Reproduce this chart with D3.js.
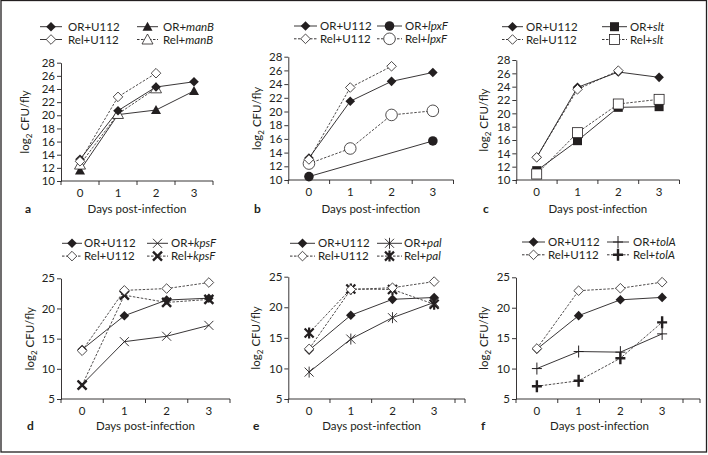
<!DOCTYPE html>
<html><head><meta charset="utf-8">
<script src="https://cdn.jsdelivr.net/npm/d3@7"></script>
<style>
html,body{margin:0;padding:0;background:#fff;}
svg{display:block;font-family:Lato,"Open Sans",sans-serif;}
</style></head>
<body><svg id="chart" width="708" height="455"></svg>
<script>
// ---------- DATA ----------
const days = [0, 1, 2, 3];
const dayLabels = ["0", "1", "2", "3"];
const xTitle = "Days post-infection";

// panel a
const aOR_U112  = [13.3, 20.7, 24.3, 25.1];
const aRel_U112 = [13.0, 22.8, 26.4, null];
const aOR_manB  = [11.6, 20.1, 20.8, 23.7];
const aRel_manB = [12.5, 20.2, 24.1, null];
const aTicks = [10, 12, 14, 16, 18, 20, 22, 24, 26, 28];
// panel b
const bOR_U112  = [13.2, 21.5, 24.4, 25.7];
const bRel_U112 = [13.0, 23.5, 26.6, null];
const bOR_lpxF  = [10.5, null, null, 15.7];
const bRel_lpxF = [12.4, 14.6, 19.5, 20.1];
const bTicks = [10, 12, 14, 16, 18, 20, 22, 24, 26, 28];
// panel c
const cOR_U112  = [13.4, 23.9, 26.2, 25.4];
const cRel_U112 = [13.4, 23.6, 26.4, null];
const cOR_slt   = [11.4, 15.9, 20.9, 21.0];
const cRel_slt  = [10.9, 17.1, 21.4, 22.1];
const cTicks = [10, 12, 14, 16, 18, 20, 22, 24, 26, 28];
// panel d
const dOR_U112  = [13.2, 18.8, 21.4, 21.7];
const dRel_U112 = [13.0, 23.0, 23.3, 24.3];
const dOR_kpsF  = [7.4, 14.5, 15.4, 17.2];
const dRel_kpsF = [7.3, 22.2, 21.0, 21.5];
const dTicks = [5, 10, 15, 20, 25];
// panel e
const eOR_U112  = [13.0, 18.7, 21.3, 21.6];
const eRel_U112 = [13.2, 22.9, 23.2, 24.2];
const eOR_pal   = [9.4, 14.8, 18.3, 20.8];
const eRel_pal  = [15.8, 23.0, 22.9, 20.5];
const eTicks = [5, 10, 15, 20, 25];
// panel f
const fOR_U112  = [13.2, 18.7, 21.3, 21.7];
const fRel_U112 = [13.3, 22.8, 23.2, 24.2];
const fOR_tolA  = [10.0, 12.8, 12.7, 15.7];
const fRel_tolA = [7.1, 8.0, 11.7, 17.6];
const fTicks = [5, 10, 15, 20, 25];

const genes = ["manB", "lpxF", "slt", "kpsF", "pal", "tolA"];

// ---------- LAYOUT ----------
const INK = "#231f20";
const panels = [
  {id:"a", gene:genes[0], data:[aOR_U112,aRel_U112,aOR_manB,aRel_manB], marks:["dF","dO","tF","tO"], ticks:aTicks,
   xl:61, xr:213, axEnd:213, yt:62.7, yb:181, lab:{x:25,y:213}, yl:{x:29},
   lg:{y:26.7, c:[[40,62,68],[137,158,163]]}, relSolidLegend:true},
  {id:"b", gene:genes[1], data:[bOR_U112,bRel_U112,bOR_lpxF,bRel_lpxF], marks:["dF","dO","cF","cO"], ticks:bTicks,
   xl:288.3, xr:453.5, axEnd:453.5, yt:56.7, yb:180, lab:{x:254,y:213}, yl:{x:261},
   lg:{y:26, c:[[294,317,320],[377,402,405]]}},
  {id:"c", gene:genes[2], data:[cOR_U112,cRel_U112,cOR_slt,cRel_slt], marks:["dF","dO","sF","sO"], ticks:cTicks,
   xl:516.3, xr:679.5, axEnd:679.5, yt:60, yb:180, lab:{x:483,y:213}, yl:{x:488},
   lg:{y:26.7, c:[[502,523,526],[602,627,630]]}},
  {id:"d", gene:genes[3], data:[dOR_U112,dRel_U112,dOR_kpsF,dRel_kpsF], marks:["dF","dO","xT","xB"], ticks:dTicks,
   xl:61, xr:230, axEnd:230, yt:278.3, yb:399, lab:{x:27,y:430}, yl:{x:34},
   lg:{y:243.3, c:[[62,82,84],[147,168,171]]}},
  {id:"e", gene:genes[4], data:[eOR_U112,eRel_U112,eOR_pal,eRel_pal], marks:["dF","dO","aT","aB"], ticks:eTicks,
   xl:288.3, xr:455, axEnd:465, yt:276.7, yb:399, lab:{x:253,y:430}, yl:{x:260},
   lg:{y:243.3, c:[[290,315,318],[377,402,404]]}},
  {id:"f", gene:genes[5], data:[fOR_U112,fRel_U112,fOR_tolA,fRel_tolA], marks:["dF","dO","pT","pB"], ticks:fTicks,
   xl:516, xr:683, axEnd:700, yt:277.3, yb:399, lab:{x:481,y:430}, yl:{x:488},
   lg:{y:242, c:[[522,545,548],[607,629,633]]}}
];

const svg = d3.select("#chart");
// border
svg.append("rect").attr("x",1).attr("y",0.5).attr("width",705.5).attr("height",451.5)
  .attr("fill","none").attr("stroke",INK).attr("stroke-width",1.3);

function drawMarker(g, type, x, y) {
  const m = g.append("g").attr("transform", `translate(${x},${y})`);
  const diamond = r => `M0,${-r}L${r},0L0,${r}L${-r},0Z`;
  switch (type) {
    case "dF": m.append("path").attr("d", diamond(4.8)).attr("fill", INK); break;
    case "dO": m.append("path").attr("d", diamond(4.8)).attr("fill", "#fff").attr("stroke", INK).attr("stroke-width", 0.8); break;
    case "tF": m.append("path").attr("d", "M0,-5L5,4L-5,4Z").attr("fill", INK); break;
    case "tO": m.append("path").attr("d", "M0,-5.5L5.5,4.5L-5.5,4.5Z").attr("fill", "#fff").attr("stroke", INK).attr("stroke-width", 0.8); break;
    case "cF": m.append("circle").attr("r", 4.8).attr("fill", INK); break;
    case "cO": m.append("circle").attr("r", 5.8).attr("fill", "#fff").attr("stroke", INK).attr("stroke-width", 0.8); break;
    case "sF": m.append("rect").attr("x", -4.5).attr("y", -4.5).attr("width", 9).attr("height", 9).attr("fill", INK); break;
    case "sO": m.append("rect").attr("x", -5).attr("y", -5).attr("width", 10).attr("height", 10).attr("fill", "#fff").attr("stroke", INK).attr("stroke-width", 0.8); break;
    case "xT": m.append("path").attr("d", "M-4.5,-4.5L4.5,4.5M-4.5,4.5L4.5,-4.5").attr("stroke", INK).attr("stroke-width", 0.9); break;
    case "xB": m.append("path").attr("d", "M-4.5,-4.5L4.5,4.5M-4.5,4.5L4.5,-4.5").attr("stroke", INK).attr("stroke-width", 2.4); break;
    case "aT": m.append("path").attr("d", "M-4.5,-4.5L4.5,4.5M-4.5,4.5L4.5,-4.5M0,-5.5L0,5.5").attr("stroke", INK).attr("stroke-width", 0.9); break;
    case "aB": m.append("path").attr("d", "M-4.5,-4.5L4.5,4.5M-4.5,4.5L4.5,-4.5M0,-5.5L0,5.5").attr("stroke", INK).attr("stroke-width", 2.2); break;
    case "pT": m.append("path").attr("d", "M0,-6L0,6M-5,0L5,0").attr("stroke", INK).attr("stroke-width", 1.0); break;
    case "pB": m.append("path").attr("d", "M0,-6L0,6M-5,0L5,0").attr("stroke", INK).attr("stroke-width", 2.4); break;
  }
}

panels.forEach(p => {
  const g = svg.append("g");
  const x = d3.scaleLinear().domain([-0.5, 3.5]).range([p.xl, p.xr]);
  const y = d3.scaleLinear().domain([p.ticks[0], p.ticks[p.ticks.length-1]]).range([p.yb, p.yt]);

  // y axis
  const ya = g.append("g").attr("transform", `translate(${p.xl},0)`)
    .call(d3.axisLeft(y).tickValues(p.ticks).tickSize(4).tickSizeOuter(0).tickPadding(2));
  ya.select(".domain").attr("stroke", INK).attr("stroke-width", 0.9);
  ya.selectAll(".tick line").attr("stroke", INK).attr("stroke-width", 0.9);
  ya.selectAll(".tick text").attr("fill", INK).attr("font-size", 11.5).attr("font-family", "Lato, sans-serif");

  // x axis: boundary ticks + centered labels
  g.append("line").attr("x1", p.xl).attr("x2", p.axEnd).attr("y1", p.yb).attr("y2", p.yb)
    .attr("stroke", INK).attr("stroke-width", 0.9);
  const bounds = [-0.5, 0.5, 1.5, 2.5, 3.5];
  g.selectAll(".bt").data(bounds).enter().append("line")
    .attr("x1", d => x(d)).attr("x2", d => x(d)).attr("y1", p.yb).attr("y2", p.yb + 4)
    .attr("stroke", INK).attr("stroke-width", 0.9);
  if (p.axEnd > p.xr + 1) {
    g.append("line").attr("x1", p.axEnd).attr("x2", p.axEnd).attr("y1", p.yb).attr("y2", p.yb + 4)
      .attr("stroke", INK).attr("stroke-width", 0.9);
  }
  g.selectAll(".xl").data(days).enter().append("text")
    .attr("x", d => x(d)).attr("y", p.yb + 16).attr("text-anchor", "middle")
    .attr("font-size", 11.5).attr("fill", INK).text((d, i) => dayLabels[i]);

  // titles
  g.append("text").attr("x", (p.xl + p.xr) / 2).attr("y", p.lab.y).attr("text-anchor", "middle")
    .attr("font-size", 11.5).attr("fill", INK).text(xTitle);
  g.append("text").attr("x", p.lab.x).attr("y", p.lab.y).attr("font-size", 12).attr("font-weight", "bold")
    .attr("fill", INK).text(p.id);
  const yt = g.append("text").attr("transform", `translate(${p.yl.x},${(p.yt + p.yb) / 2}) rotate(-90)`)
    .attr("text-anchor", "middle").attr("font-size", 11.5).attr("fill", INK);
  yt.append("tspan").text("log");
  yt.append("tspan").attr("font-size", 8).attr("dy", 3).text("2");
  yt.append("tspan").attr("dy", -3).text(" CFU/fly");

  // series lines then markers
  const line = d3.line().defined(d => d.v != null).x(d => x(d.day)).y(d => y(d.v));
  const order = [0, 2, 3, 1];
  p.data.forEach((arr, si) => {
    const pts = days.map((d, i) => ({day: d, v: arr[i]})).filter(d => d.v != null);
    const dashed = si % 2 === 1;
    g.append("path").datum(pts).attr("d", line).attr("fill", "none")
      .attr("stroke", INK).attr("stroke-width", dashed ? 0.8 : 0.9)
      .attr("stroke-dasharray", dashed ? "2.5,1.5" : null);
  });
  [2, 3, 0, 1].forEach(si => {
    p.data[si].forEach((v, i) => { if (v != null) drawMarker(g, p.marks[si], x(days[i]), y(v)); });
  });

  // legend
  const names = [["OR+U112", "Rel+U112"], ["OR+", "Rel+"]];
  [0, 1].forEach(col => {
    [0, 1].forEach(row => {
      const si = col * 2 + row;
      const [lx0, lx1, tx] = p.lg.c[col];
      const ly = p.lg.y + row * 12.8;
      const dashed = row === 1 && !(p.relSolidLegend && col === 0);
      g.append("line").attr("x1", lx0).attr("x2", lx1).attr("y1", ly).attr("y2", ly)
        .attr("stroke", INK).attr("stroke-width", 0.9).attr("stroke-dasharray", dashed ? "2.5,1.5" : null);
      drawMarker(g, p.marks[si], (lx0 + lx1) / 2, ly);
      const t = g.append("text").attr("x", tx).attr("y", ly + 4).attr("font-size", 11.5).attr("fill", INK);
      t.append("tspan").text(names[col][row]);
      if (col === 1) t.append("tspan").attr("font-style", "italic").text(p.gene);
    });
  });
});
</script></body></html>
